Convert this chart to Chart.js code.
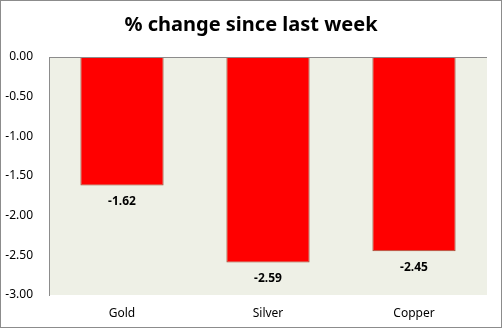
<!DOCTYPE html>
<html>
<head>
<meta charset="utf-8">
<script src="https://cdn.jsdelivr.net/npm/chart.js@4"></script>
<style>
  html, body { margin: 0; padding: 0; background: #fff; }
  #wrap { width: 502px; height: 328px; }
</style>
</head>
<body>
<div id="wrap"><canvas id="chart" width="502" height="328"></canvas></div>
<script>
const categories = ['Gold', 'Silver', 'Copper']
const changeValues = [-1.62, -2.59, -2.45]
const yTicks = [0, -0.5, -1, -1.5, -2, -2.5, -3]

const FONT = "'Noto Sans', sans-serif"

// background, border, title, zero line and value labels
const decor = {
  id: 'decor',
  beforeDraw(chart) {
    const { ctx, chartArea: a, width, height } = chart
    ctx.save()
    ctx.fillStyle = '#fff'
    ctx.fillRect(0, 0, width, height)
    ctx.fillStyle = '#EEF0E6'
    ctx.fillRect(a.left, a.top, a.right - a.left, a.bottom - a.top)
    ctx.restore()
  },
  afterDraw(chart) {
    const { ctx, chartArea: a, width, height } = chart
    ctx.save()
    ctx.strokeStyle = '#8c8c8c'
    ctx.lineWidth = 1
    ctx.strokeRect(0.5, 0.5, width - 1, height - 1)
    ctx.beginPath()
    ctx.moveTo(a.left, Math.round(a.top) + 0.5)
    ctx.lineTo(a.right, Math.round(a.top) + 0.5)
    ctx.stroke()

    ctx.fillStyle = '#000'
    ctx.font = 'bold 20px ' + FONT
    ctx.textAlign = 'center'
    ctx.textBaseline = 'middle'
    ctx.fillText('% change since last week', width / 2, 25)

    ctx.font = 'bold 12px ' + FONT
    const meta = chart.getDatasetMeta(0)
    meta.data.forEach((bar, i) => {
      ctx.fillText(changeValues[i].toFixed(2), bar.x, bar.y + 16)
    })
    ctx.restore()
  }
}

new Chart(document.getElementById('chart'), {
  type: 'bar',
  data: {
    labels: categories,
    datasets: [{
      data: changeValues,
      backgroundColor: '#FF0000',
      borderColor: '#9A4E35',
      borderWidth: 1,
      borderSkipped: false,
      categoryPercentage: 1,
      barPercentage: 0.57
    }]
  },
  options: {
    responsive: false,
    animation: false,
    layout: { padding: { top: 57, right: 15, left: 0, bottom: 0 } },
    plugins: {
      legend: { display: false },
      title: { display: false },
      tooltip: { enabled: false }
    },
    scales: {
      x: {
        grid: { display: false },
        border: { display: false },
        ticks: { color: '#000', font: { family: FONT, size: 12 }, padding: 3 },
        afterFit(s) { s.height = 33 }
      },
      y: {
        min: -3,
        max: 0,
        afterBuildTicks(s) { s.ticks = yTicks.map(v => ({ value: v })) },
        grid: { display: false },
        border: { display: true, color: '#8c8c8c' },
        ticks: {
          color: '#000',
          font: { family: FONT, size: 12 },
          padding: 8,
          callback: v => v.toFixed(2)
        },
        afterFit(s) { s.width = 49 }
      }
    }
  },
  plugins: [decor]
})
</script>
</body>
</html>
